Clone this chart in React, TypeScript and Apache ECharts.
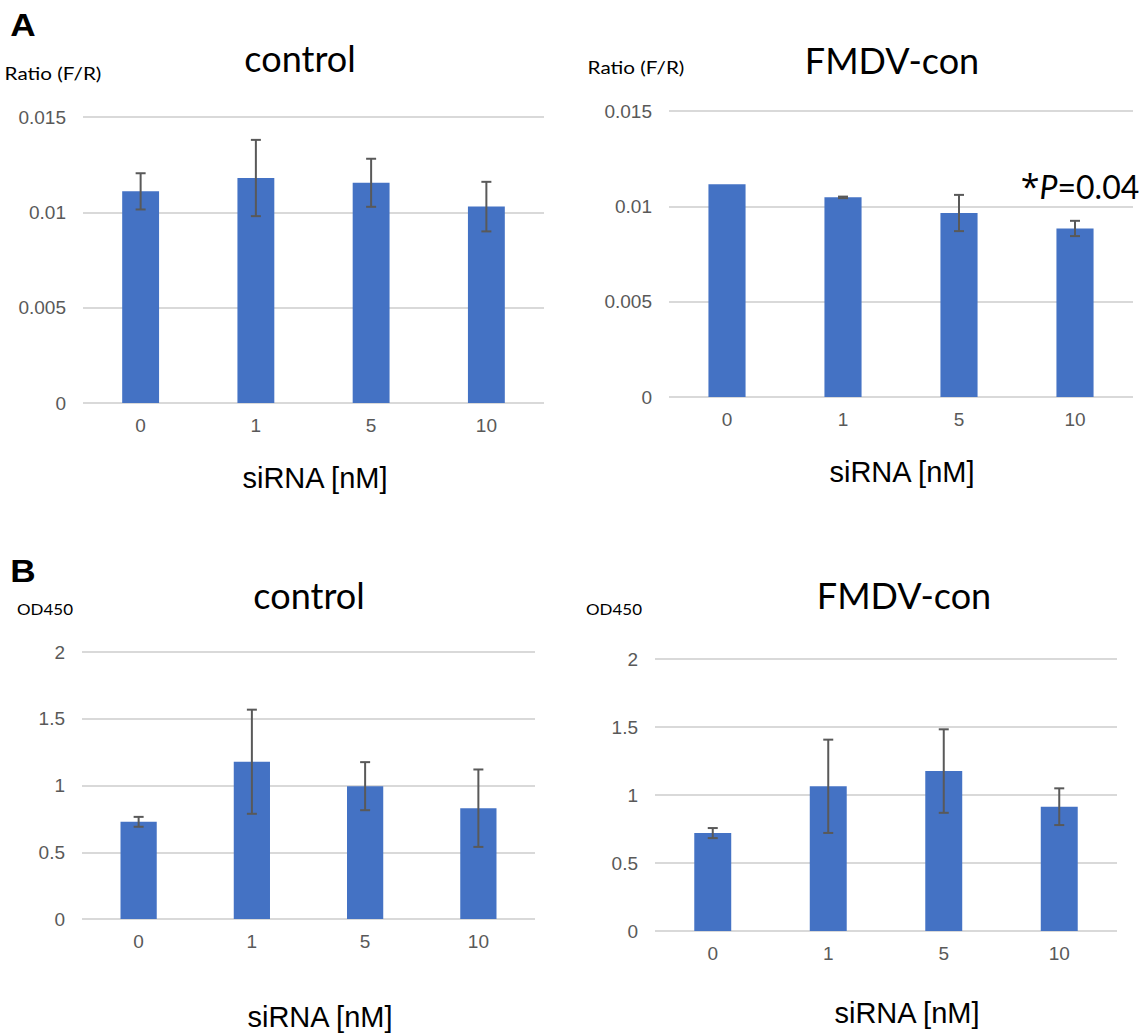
import { useEffect, useRef } from "react";
import * as echarts from "echarts";

const CATEGORIES = ["0", "1", "5", "10"];
const A_TICKS = ["0", "0.005", "0.01", "0.015"];
const B_TICKS = ["0", "0.5", "1", "1.5", "2"];

const A_CONTROL_MEAN = [0.0111, 0.0118, 0.01155, 0.0103];
const A_CONTROL_ERR = [0.00095, 0.002, 0.00126, 0.0013];
const A_FMDV_MEAN = [0.01116, 0.01047, 0.00965, 0.00884];
const A_FMDV_ERR = [0, 0.00004, 0.00095, 0.0004];
const B_CONTROL_MEAN = [0.728, 1.178, 0.995, 0.83];
const B_CONTROL_ERR = [0.037, 0.39, 0.18, 0.29];
const B_FMDV_MEAN = [0.72, 1.064, 1.176, 0.914];
const B_FMDV_ERR = [0.037, 0.343, 0.307, 0.135];

const BAR_COLOR = "#4472c4";
const GRID_COLOR = "#d9d9d9";
const AXIS_TEXT = "#595959";
const TICK_FONT = "'Liberation Sans', Arial, sans-serif";
const TITLE_FONT = "Lato, 'Open Sans', sans-serif";

const panels = [
  { grid: { left: 83, top: 117, width: 461, height: 286 }, mean: A_CONTROL_MEAN, err: A_CONTROL_ERR, max: 0.015, interval: 0.005, ticks: A_TICKS },
  { grid: { left: 669, top: 111, width: 464, height: 286 }, mean: A_FMDV_MEAN, err: A_FMDV_ERR, max: 0.015, interval: 0.005, ticks: A_TICKS },
  { grid: { left: 82, top: 652, width: 453, height: 267 }, mean: B_CONTROL_MEAN, err: B_CONTROL_ERR, max: 2, interval: 0.5, ticks: B_TICKS },
  { grid: { left: 655, top: 659, width: 462, height: 272 }, mean: B_FMDV_MEAN, err: B_FMDV_ERR, max: 2, interval: 0.5, ticks: B_TICKS },
];

function text(x: number, y: number, t: string, size: number, font: string, scaleX = 1, extra: any = {}) {
  return {
    type: "text",
    x,
    y,
    scaleX,
    style: {
      text: t,
      fontSize: size,
      fontFamily: font,
      fill: "#000",
      textAlign: "center",
      textVerticalAlign: "middle",
      ...extra,
    },
  };
}

export default function App() {
  const ref = useRef<HTMLDivElement>(null);
  useEffect(() => {
    if (!ref.current) return;
    const chart = echarts.init(ref.current, undefined, { renderer: "svg" });
    const grids = panels.map((p) => ({ ...p.grid, containLabel: false }));
    const xAxes = panels.map((_p, i) => ({
      type: "category",
      gridIndex: i,
      data: CATEGORIES,
      axisTick: { show: false },
      axisLine: { show: false },
      axisLabel: { color: AXIS_TEXT, fontSize: 19, fontFamily: TICK_FONT, margin: 13 },
    }));
    const yAxes = panels.map((p, i) => ({
      type: "value",
      gridIndex: i,
      min: 0,
      max: p.max,
      interval: p.interval,
      axisLine: { show: false },
      axisTick: { show: false },
      splitLine: { lineStyle: { color: GRID_COLOR, width: 2 } },
      axisLabel: {
        color: AXIS_TEXT,
        fontSize: 19,
        fontFamily: TICK_FONT,
        margin: 17,
        formatter: (_v: number, idx: number) => p.ticks[idx],
      },
    }));
    const series: any[] = [];
    panels.forEach((p, i) => {
      series.push({
        type: "bar",
        xAxisIndex: i,
        yAxisIndex: i,
        data: p.mean,
        barWidth: "32%",
        itemStyle: { color: BAR_COLOR },
        z: 2,
      });
      series.push({
        type: "custom",
        xAxisIndex: i,
        yAxisIndex: i,
        z: 3,
        data: p.mean.map((m, k) => [k, m - p.err[k], m + p.err[k]]),
        encode: { x: 0, y: [1, 2] },
        renderItem: (_params: any, api: any) => {
          const x = api.value(0);
          const lo = api.value(1);
          const hi = api.value(2);
          if (hi - lo <= 0) return null;
          const p1 = api.coord([x, hi]);
          const p2 = api.coord([x, lo]);
          const hw = 5;
          const style = { stroke: "#595959", lineWidth: 2 };
          return {
            type: "group",
            children: [
              { type: "line", shape: { x1: p1[0], y1: p1[1], x2: p2[0], y2: p2[1] }, style },
              { type: "line", shape: { x1: p1[0] - hw, y1: p1[1], x2: p1[0] + hw, y2: p1[1] }, style },
              { type: "line", shape: { x1: p2[0] - hw, y1: p2[1], x2: p2[0] + hw, y2: p2[1] }, style },
            ],
          };
        },
      });
    });

    const graphics: any[] = [
      text(23, 25, "A", 32, TICK_FONT, 1.1, { fontWeight: "bold" }),
      text(23, 571, "B", 32, TICK_FONT, 1.1, { fontWeight: "bold" }),
      text(300, 58, "control", 36, TITLE_FONT),
      text(892, 60, "FMDV-con", 36, TITLE_FONT),
      text(309, 595, "control", 36, TITLE_FONT),
      text(904, 595, "FMDV-con", 36, TITLE_FONT),
      text(53, 73, "Ratio (F/R)", 18, TITLE_FONT, 1.15),
      text(636, 67, "Ratio (F/R)", 18, TITLE_FONT, 1.15),
      text(45, 609, "OD450", 15, TITLE_FONT, 1.13),
      text(614, 609, "OD450", 15, TITLE_FONT, 1.13),
      text(315, 478, "siRNA [nM]", 29, TICK_FONT),
      text(902, 472, "siRNA [nM]", 29, TICK_FONT),
      text(320, 1017, "siRNA [nM]", 29, TICK_FONT),
      text(907, 1013, "siRNA [nM]", 29, TICK_FONT),
      {
        type: "text",
        x: 1080,
        y: 186,
        style: {
          text: "{a|*}{i|P}{n|=0.04}",
          textAlign: "center",
          textVerticalAlign: "middle",
          rich: {
            a: { fontSize: 34, fontFamily: "'Open Sans', sans-serif", color: "#000" },
            n: { fontSize: 32, fontFamily: TITLE_FONT, color: "#000" },
            i: { fontSize: 32, fontFamily: TITLE_FONT, fontStyle: "italic", color: "#000" },
          },
        },
      },
    ];

    chart.setOption({
      animation: false,
      backgroundColor: "#ffffff",
      grid: grids,
      xAxis: xAxes,
      yAxis: yAxes,
      series,
      graphic: graphics,
    });
    return () => chart.dispose();
  }, []);
  return (
    <div
      ref={ref}
      style={{ position: "fixed", left: 0, top: 0, width: 1148, height: 1033, background: "#fff" }}
    />
  );
}
